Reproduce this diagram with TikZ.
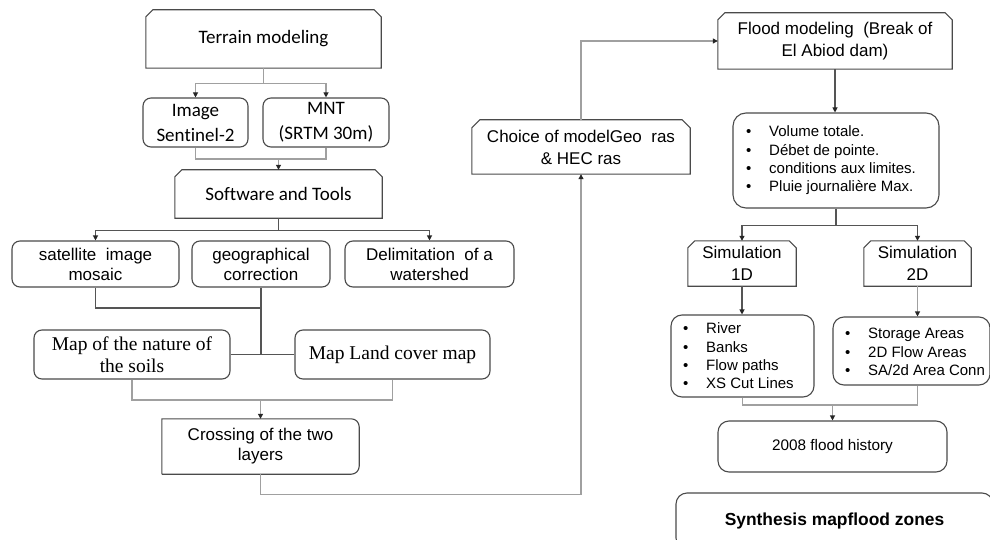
\documentclass[tikz,border=0pt]{standalone}
\usepackage{fontspec}
\setmainfont{Liberation Sans}
\newfontfamily\calibf[Ligatures=NoCommon]{Carlito}
\newfontfamily\timesf{Liberation Serif}
\usetikzlibrary{arrows.meta,calc}
\definecolor{boxc}{HTML}{4A4A4A}
\definecolor{lined}{HTML}{555555}
\definecolor{linel}{HTML}{A0A0A0}
\newcommand{\chbox}[2][7]{\draw[line width=1.1pt,draw=boxc] ([yshift=-#1pt]#2.north west) -- ([xshift=#1pt]#2.north west) -- ([xshift=-#1pt]#2.north east) -- ([yshift=-#1pt]#2.north east) -- (#2.south east) -- (#2.south west) -- cycle;}
\newcommand{\bul}[1]{\makebox[23pt][l]{•}#1}
\tikzset{
  plain/.style={inner sep=0pt, align=center},
  rbox/.style={plain, draw=boxc, line width=1.1pt, rounded corners=8pt},
  cal/.style={font=\calibf\fontsize{19}{25}\selectfont},
  ar/.style={font=\fontsize{17}{20}\selectfont},
  arw/.style={font=\fontsize{17}{22}\selectfont},
  tim/.style={font=\timesf\fontsize{19.5}{22}\selectfont},
  lst/.style={inner sep=0pt, align=left, font=\fontsize{15}{18.3}\selectfont},
  dk/.style={draw=lined, line width=1.1pt},
  lt/.style={draw=linel, line width=1.1pt},
  arr/.style={-{Triangle[length=5pt,width=5pt,color=black!85]}}
}
\begin{document}
\begin{tikzpicture}[x=1pt,y=-1pt]
\useasboundingbox (0,0) rectangle (990,540);
\clip (0,0) rectangle (990,540);
\fill[white] (0,0) rectangle (990,540);

% ---------- left column ----------
\node[plain, cal, minimum width=235pt, minimum height=58pt] (terrain) at (263.5,39) {Terrain modeling};
\chbox{terrain}
\node[rbox, cal, minimum width=105pt, minimum height=49pt] (image) at (195.5,122.5) {Image\\Sentinel-2};
\node[rbox, cal, minimum width=126pt, minimum height=49pt] (mnt) at (326,122.5) {MNT\\(SRTM 30m)};
\node[plain, cal, minimum width=207pt, minimum height=48pt] (software) at (278.5,194) {Software and Tools};
\chbox{software}
\node[rbox, ar, minimum width=167pt, minimum height=46pt] (sat) at (95.5,264) {satellite~ image\\mosaic};
\node[rbox, ar, minimum width=138pt, minimum height=46pt] (geo) at (261,264) {geographical\\correction};
\node[rbox, ar, minimum width=169pt, minimum height=46pt] (delim) at (429.5,264) {Delimitation~ of a\\watershed};
\node[rbox, tim, minimum width=196pt, minimum height=49pt] (mapnat) at (132,354.5) {Map of the nature of\\the soils};
\node[rbox, tim, minimum width=195pt, minimum height=49pt] (mapland) at (392.5,354.5) {Map Land cover map};
\node[plain, ar, minimum width=197pt, minimum height=55pt] (crossing) at (260.5,446.5) {Crossing of the two\\layers};
\draw[line width=1.1pt, draw=boxc] (crossing.south west) -- (crossing.north west) [rounded corners=8pt] -- (crossing.north east) -- (crossing.south east) [sharp corners] -- (crossing.south west);

% ---------- middle ----------
\node[plain, arw, minimum width=218pt, minimum height=54pt] (choice) at (581,147) {Choice of modelGeo~ ras\\\& HEC ras};
\chbox[8]{choice}

% ---------- right column ----------
\node[plain, arw, minimum width=234pt, minimum height=56pt] (flood) at (835,41) {Flood modeling~ (Break of\\El Abiod dam)};
\chbox{flood}
\node[rbox, rounded corners=13pt, minimum width=206pt, minimum height=95pt] (bullets) at (836,160.5) {};
\node[lst, anchor=west] (bulletst) at (746,160.5) {\bul{Volume totale.}\\\bul{Débet de pointe.}\\\bul{conditions aux limites.}\\\bul{Pluie journalière Max.}};
\node[plain, arw, minimum width=108pt, minimum height=45pt] (sim1) at (742,263.5) {Simulation\\1D};
\chbox{sim1}
\node[plain, arw, minimum width=107pt, minimum height=45pt] (sim2) at (917.5,263.5) {Simulation\\2D};
\chbox{sim2}
\node[rbox, rounded corners=11pt, minimum width=143pt, minimum height=82pt] (list1) at (742.5,356) {};
\node[lst, anchor=west] (list1t) at (683,356) {\bul{River}\\\bul{Banks}\\\bul{Flow paths}\\\bul{XS Cut Lines}};
\node[rbox, rounded corners=11pt, minimum width=157pt, minimum height=68pt] (list2) at (911.5,351) {};
\node[lst, anchor=west] (list2t) at (845,352) {\bul{Storage Areas}\\\bul{2D Flow Areas}\\\bul{SA/2d Area Conn}};
\node[rbox, rounded corners=11pt, font=\fontsize{15.3}{18}\selectfont, minimum width=229pt, minimum height=51pt] (hist) at (832.5,446.5) {2008 flood history};
\node[rbox, rounded corners=11pt, font=\bfseries\fontsize{17.4}{20}\selectfont, minimum width=317pt, minimum height=56pt] (synth) at (834.5,521) {Synthesis mapflood zones};

% ---------- connectors ----------
\draw[lt] (terrain.south) -- ++(0,15) coordinate (t1);
\draw[lt, arr] (t1) -| (image.north);
\draw[lt, arr] (t1) -| (mnt.north);
\coordinate (j1) at (software.north |- 0,159);
\draw[lt] (image.south) |- (j1) -| (mnt.south);
\draw[lt, arr] (j1) -- (software.north);
\draw[dk] (software.south) -- ++(0,12) coordinate (s1);
\draw[dk, arr] (s1) -| (sat.north);
\draw[dk, arr] (s1) -| (delim.north);
\coordinate (j2) at (geo.south |- 0,308);
\draw[dk] (sat.south) |- (j2);
\coordinate (j3) at (geo.south |- mapnat.east);
\draw[dk] (geo.south) -- (j3);
\draw[dk] (mapnat.east) -- (mapland.west);
\coordinate (j4) at (crossing.north |- 0,400);
\draw[lt] (mapnat.south) |- (j4) -| (mapland.south);
\draw[lt, arr] (j4) -- (crossing.north);
\draw[lt, arr] (crossing.south) -- ++(0,20) -| (choice.south);
\draw[lt, arr] (choice.north) |- (flood.west);
\draw[dk, arr] (flood.south) -- (flood.south |- bullets.north);
\draw[dk] (bullets.south) -- ++(0,17) coordinate (b1);
\draw[dk, arr] (b1) -| (sim1.north);
\draw[dk, arr] (b1) -| (sim2.north);
\draw[dk, arr] (sim1.south) -- (sim1.south |- list1.north);
\draw[lt, arr] (sim2.south) -- (sim2.south |- list2.north);
\coordinate (j5) at (hist.north |- 0,405);
\draw[lt] (list1.south) |- (j5) -| (sim2.south |- list2.south);
\draw[lt, arr] (j5) -- (hist.north);
\end{tikzpicture}
\end{document}
